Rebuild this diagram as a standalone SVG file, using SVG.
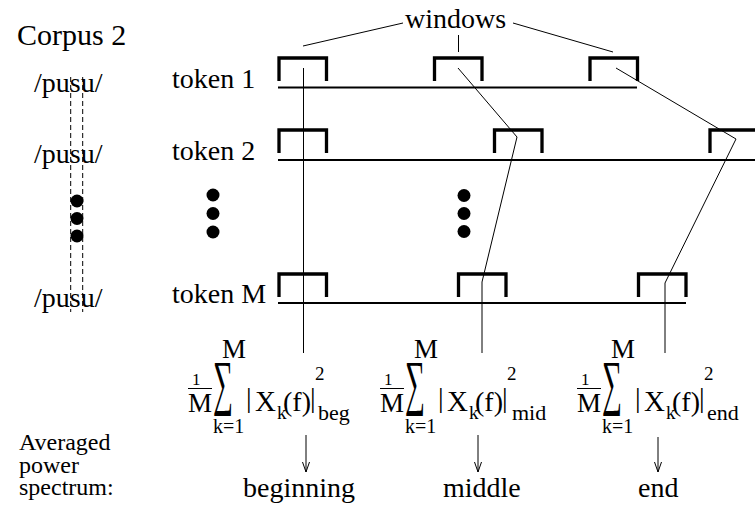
<svg xmlns="http://www.w3.org/2000/svg" xmlns:xlink="http://www.w3.org/1999/xlink" width="755" height="508" viewBox="0 0 755 508">
  <style>
    text { font-family: "Liberation Serif", "Times New Roman", serif; fill: #000; }
    .lbl { font-size: 28px; }
    .side { font-size: 24px; }
    .win { fill: none; stroke: #000; stroke-width: 3.3; }
    .tl { stroke: #000; stroke-width: 2.2; }
    .thin { fill: none; stroke: #000; stroke-width: 1; }
    .dash { stroke: #000; stroke-width: 1; stroke-dasharray: 5 3; }
    .dot { fill: #000; }
    .arr { stroke: #000; stroke-width: 1; marker-end: url(#stick); }
  </style>
  <defs>
    <marker id="stick" viewBox="0 0 10 8" refX="10" refY="4" markerWidth="10" markerHeight="8" markerUnits="userSpaceOnUse" orient="auto">
      <path d="M0,0.5 L10,4 L0,7.5" fill="none" stroke="#000" stroke-width="1"/>
    </marker>
    <!-- window bracket, origin at its top-left corner -->
    <path id="bracket" class="win" d="M0,23 V0 H47.5 V23"/>
    <!-- (1/M) sum_{k=1}^{M} |X_k(f)|^2 -->
    <g id="avg">
      <text x="192" y="385" font-size="17">1</text>
      <line x1="188" y1="388.5" x2="212" y2="388.5" stroke="#000" stroke-width="1"/>
      <text x="188" y="411.5" font-size="27">M</text>
      <text x="222" y="358" font-size="27">M</text>
      <text transform="translate(213,403) scale(0.46,1)" font-size="61">∑</text>
      <text x="213" y="433" font-size="20">k=1</text>
      <text x="246" y="407" font-size="28">|</text>
      <text x="255" y="411" font-size="29">X</text>
      <text x="277" y="419" font-size="19">k</text>
      <text x="283" y="411" font-size="28">(f)</text>
      <text x="310" y="407" font-size="28">|</text>
      <text x="315" y="380" font-size="19">2</text>
    </g>
  </defs>

  <g id="corpus-title">
    <text x="17" y="45" font-size="30">Corpus 2</text>
  </g>

  <g id="windows-label">
    <text class="lbl" x="405" y="28">windows</text>
  </g>

  <g id="transcriptions">
    <text class="lbl" x="34" y="92">/pusu/</text>
    <text class="lbl" x="34" y="163">/pusu/</text>
    <text class="lbl" x="34" y="307">/pusu/</text>
    <line class="dash" x1="70.7" y1="77" x2="70.7" y2="312"/>
    <line class="dash" x1="82.7" y1="77" x2="82.7" y2="312"/>
    <circle class="dot" cx="77" cy="201" r="6.5"/>
    <circle class="dot" cx="77" cy="218.5" r="6.5"/>
    <circle class="dot" cx="77" cy="236" r="6.5"/>
  </g>

  <g id="token-1">
    <text class="lbl" x="172" y="88">token 1</text>
    <line class="tl" x1="278" y1="87.5" x2="637" y2="87.5"/>
    <use xlink:href="#bracket" x="279" y="58"/>
    <use xlink:href="#bracket" x="434.5" y="58"/>
    <use xlink:href="#bracket" x="590" y="58"/>
  </g>

  <g id="token-2">
    <text class="lbl" x="172" y="160">token 2</text>
    <line class="tl" x1="278" y1="160" x2="755" y2="160"/>
    <use xlink:href="#bracket" x="279" y="130"/>
    <use xlink:href="#bracket" x="494.5" y="130"/>
    <use xlink:href="#bracket" x="710" y="130"/>
  </g>

  <g id="ellipsis">
    <circle class="dot" cx="213" cy="195" r="6.5"/>
    <circle class="dot" cx="213" cy="213.5" r="6.5"/>
    <circle class="dot" cx="213" cy="232" r="6.5"/>
    <circle class="dot" cx="464" cy="195.5" r="6.5"/>
    <circle class="dot" cx="464" cy="213.5" r="6.5"/>
    <circle class="dot" cx="464" cy="231.5" r="6.5"/>
  </g>

  <g id="token-M">
    <text class="lbl" x="172" y="303">token M</text>
    <line class="tl" x1="278" y1="303" x2="686" y2="303"/>
    <use xlink:href="#bracket" x="279" y="274"/>
    <use xlink:href="#bracket" x="458.5" y="274"/>
    <use xlink:href="#bracket" x="638.5" y="274"/>
  </g>

  <g id="connectors">
    <!-- leaders from the "windows" label -->
    <line class="thin" x1="303" y1="46" x2="403" y2="23"/>
    <line class="thin" x1="458.5" y1="35" x2="458.5" y2="52"/>
    <line class="thin" x1="513" y1="23" x2="613" y2="52"/>
    <!-- window positions traced through the tokens down to each average -->
    <polyline class="thin" points="303.5,68 303.5,353"/>
    <polyline class="thin" points="458,68 517,137 482,282 482,353"/>
    <polyline class="thin" points="616,68 736,139 665,283 665,353"/>
    <!-- averages to spectrum labels -->
    <line class="arr" x1="306" y1="435" x2="306" y2="472"/>
    <line class="arr" x1="478" y1="435" x2="478" y2="472"/>
    <line class="arr" x1="658" y1="437" x2="658" y2="472"/>
  </g>

  <g id="avg-beg">
    <use xlink:href="#avg"/>
    <text x="318" y="420" font-size="22">beg</text>
  </g>
  <g id="avg-mid">
    <use xlink:href="#avg" transform="translate(192,0)"/>
    <text x="512" y="420" font-size="22">mid</text>
  </g>
  <g id="avg-end">
    <use xlink:href="#avg" transform="translate(389,0)"/>
    <text x="707" y="420" font-size="22">end</text>
  </g>

  <g id="spectrum-caption">
    <text class="side" x="19" y="450">Averaged</text>
    <text class="side" x="19" y="473">power</text>
    <text class="side" x="19" y="495">spectrum:</text>
  </g>

  <g id="result-labels">
    <text class="lbl" x="243" y="497">beginning</text>
    <text class="lbl" x="443" y="497">middle</text>
    <text class="lbl" x="638" y="497">end</text>
  </g>
</svg>
